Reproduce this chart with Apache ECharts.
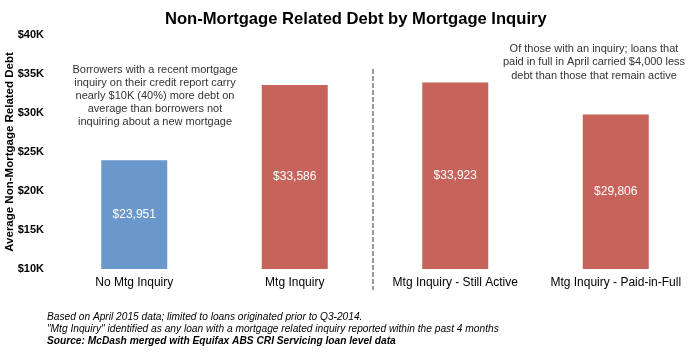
<!DOCTYPE html>
<html>
<head>
<meta charset="utf-8">
<script src="https://cdn.jsdelivr.net/npm/echarts@6/dist/echarts.min.js"></script>
<style>
	html, body { margin: 0; padding: 0; background: #fff; }
	#ec1 { width: 692px; height: 352px; }
</style>
</head>
<body>
<div id="ec1"></div>
<script>
var categories = ['No Mtg Inquiry', 'Mtg Inquiry', 'Mtg Inquiry - Still Active', 'Mtg Inquiry - Paid-in-Full'];
var debt = [23951, 33586, 33923, 29806];
var yTicks = [10000, 15000, 20000, 25000, 30000, 35000, 40000];

var noteLeft = 'Borrowers with a recent mortgage\ninquiry on their credit report carry\nnearly $10K (40%) more debt on\naverage than borrowers not\ninquiring about a new mortgage';
var noteRight = 'Of those with an inquiry; loans that\npaid in full in April carried $4,000 less\ndebt than those that remain active';
var foot1 = 'Based on April 2015 data; limited to loans originated prior to Q3-2014.';
var foot2 = '"Mtg Inquiry" identified as any loan with a mortgage related inquiry reported within the past 4 months';
var foot3 = 'Source: McDash merged with Equifax ABS CRI Servicing loan level data';

window.onload = function(){
	huizhi();
};

function fmt(v){
	return '$' + (v / 1000) + 'K';
}

function huizhi(){
	var myCharts = echarts.init(document.getElementById('ec1'));
	var font = 'Liberation Sans, Arial, sans-serif';
	var option = {
		animation: false,
		textStyle: { fontFamily: font },
		title: {
			text: 'Non-Mortgage Related Debt by Mortgage Inquiry',
			left: 160,
			top: 6,
			textStyle: { fontSize: 16.6, fontWeight: 'bold', color: '#000', fontFamily: font }
		},
		grid: { left: 54, top: 35, width: 642, height: 234, outerBoundsMode: 'none' },
		xAxis: {
			type: 'category',
			data: categories,
			axisLine: { show: false },
			axisTick: { show: false },
			axisLabel: { color: '#000', fontSize: 12, margin: 8, interval: 0 }
		},
		yAxis: {
			type: 'value',
			min: yTicks[0],
			max: yTicks[yTicks.length - 1],
			interval: yTicks[1] - yTicks[0],
			splitLine: { show: false },
			axisLine: { show: false },
			axisTick: { show: false },
			axisLabel: { color: '#000', fontSize: 11, fontWeight: 'bold', margin: 10, formatter: fmt },
			name: 'Average Non-Mortgage Related Debt',
			nameLocation: 'middle',
			nameGap: 38,
			nameMoveOverlap: false,
			nameTextStyle: { color: '#000', fontSize: 11.5, fontWeight: 'bold' }
		},
		series: [
			{
				type: 'bar',
				barWidth: 66,
				data: debt,
				itemStyle: {
					color: function (p) { return p.dataIndex === 0 ? '#6a97cc' : '#c6635b'; }
				},
				label: {
					show: true,
					position: 'inside',
					color: '#fff',
					fontSize: 12,
					formatter: function (p) { return '$' + p.value.toLocaleString('en-US'); }
				}
			}
		],
		graphic: [
			{
				type: 'line',
				shape: { x1: 373, y1: 69, x2: 373, y2: 290 },
				style: { stroke: '#999', lineWidth: 2, lineDash: [5, 2] }
			},
			{
				type: 'text', x: 155, y: 63,
				style: { text: noteLeft, textAlign: 'center', textVerticalAlign: 'top', fill: '#333', font: '11px ' + font, lineHeight: 13 }
			},
			{
				type: 'text', x: 594, y: 42,
				style: { text: noteRight, textAlign: 'center', textVerticalAlign: 'top', fill: '#333', font: '11px ' + font, lineHeight: 13.5 }
			},
			{
				type: 'text', left: 47, top: 312,
				style: { text: foot1, fill: '#000', font: 'italic 10.2px ' + font }
			},
			{
				type: 'text', left: 47, top: 324,
				style: { text: foot2, fill: '#000', font: 'italic 10.2px ' + font }
			},
			{
				type: 'text', left: 47, top: 336,
				style: { text: foot3, fill: '#000', font: 'italic bold 10.2px ' + font }
			}
		]
	};
	myCharts.setOption(option);
}
</script>
</body>
</html>
